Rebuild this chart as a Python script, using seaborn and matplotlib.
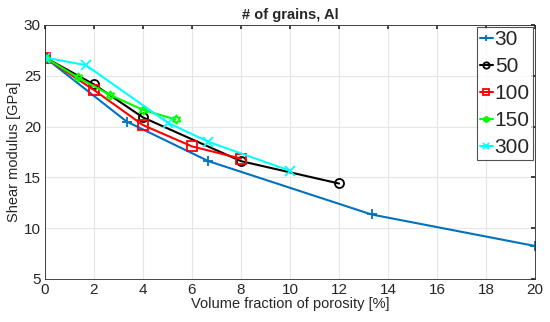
import pandas as pd
import matplotlib
matplotlib.use('Agg')
import matplotlib.pyplot as plt
import seaborn as sns

# --- data ---
labels = ['30', '50', '100', '150', '300']

x_30 = [0, 3.33, 6.67, 13.33, 20]
y_30 = [26.8, 20.5, 16.6, 11.35, 8.25]

x_50 = [0, 2, 4, 8, 12]
y_50 = [26.8, 24.15, 20.9, 16.6, 14.4]

x_100 = [0, 2, 4, 6, 8]
y_100 = [26.8, 23.6, 20.15, 18.05, 16.85]

x_150 = [0, 1.33, 2.67, 4, 5.33]
y_150 = [26.8, 24.85, 23.1, 21.65, 20.7]

x_300 = [0, 1.67, 5, 6.67, 10]
y_300 = [26.8, 26.05, 20.4, 18.5, 15.65]

xs = [x_30, x_50, x_100, x_150, x_300]
ys = [y_30, y_50, y_100, y_150, y_300]

sns.set_theme(style='white')
plt.rcParams['font.family'] = ['Liberation Sans', 'DejaVu Sans']

colors = ['#0072BD', 'black', 'red', '#00FF00', '#00FFFF']
markers = ['+', 'o', 's', (6, 1, 0), 'x']

fig = plt.figure(figsize=(5.5, 3.22), dpi=100)
ax = fig.add_axes([45 / 550, 1 - 279 / 322, 490 / 550, 254 / 322])

for lab, x, y, c, m in zip(labels, xs, ys, colors, markers):
    df = pd.DataFrame({'x': x, 'y': y})
    sns.lineplot(data=df, x='x', y='y', ax=ax, color=c, marker=m, label=lab,
                 linewidth=1.5, markersize=6.5, markerfacecolor='none',
                 markeredgecolor=c, markeredgewidth=1.3)

ax.set_xlim(0, 20)
ax.set_ylim(5, 30)
ax.set_xticks(range(0, 21, 2))
ax.set_yticks(range(5, 31, 5))
ax.grid(True, color='#e6e6e6', linewidth=0.8)
ax.set_axisbelow(True)
for s in ax.spines.values():
    s.set_color('#262626')
    s.set_linewidth(0.6)
ax.tick_params(direction='in', length=3, labelsize=11, colors='#262626',
               top=True, right=True, pad=3)
ax.set_xlabel('Volume fraction of porosity [%]', fontsize=10.5, color='#262626', labelpad=0)
ax.set_ylabel('Shear modulus [GPa]', fontsize=10.5, color='#262626', labelpad=2)
ax.set_title('# of grains, Al', fontsize=10.5, fontweight='bold', pad=4)

# MATLAB-style legend: short handles, small markers, tall rows
leg = ax.legend(loc='upper right', fontsize=15, frameon=True, fancybox=False,
                handlelength=0.6, handletextpad=0.1, borderpad=0.15,
                labelspacing=0.38, borderaxespad=0.1, markerscale=0.7)
leg.get_frame().set_edgecolor('#262626')
leg.get_frame().set_linewidth(0.8)

plt.savefig('out.png', dpi=100)
plt.close()
